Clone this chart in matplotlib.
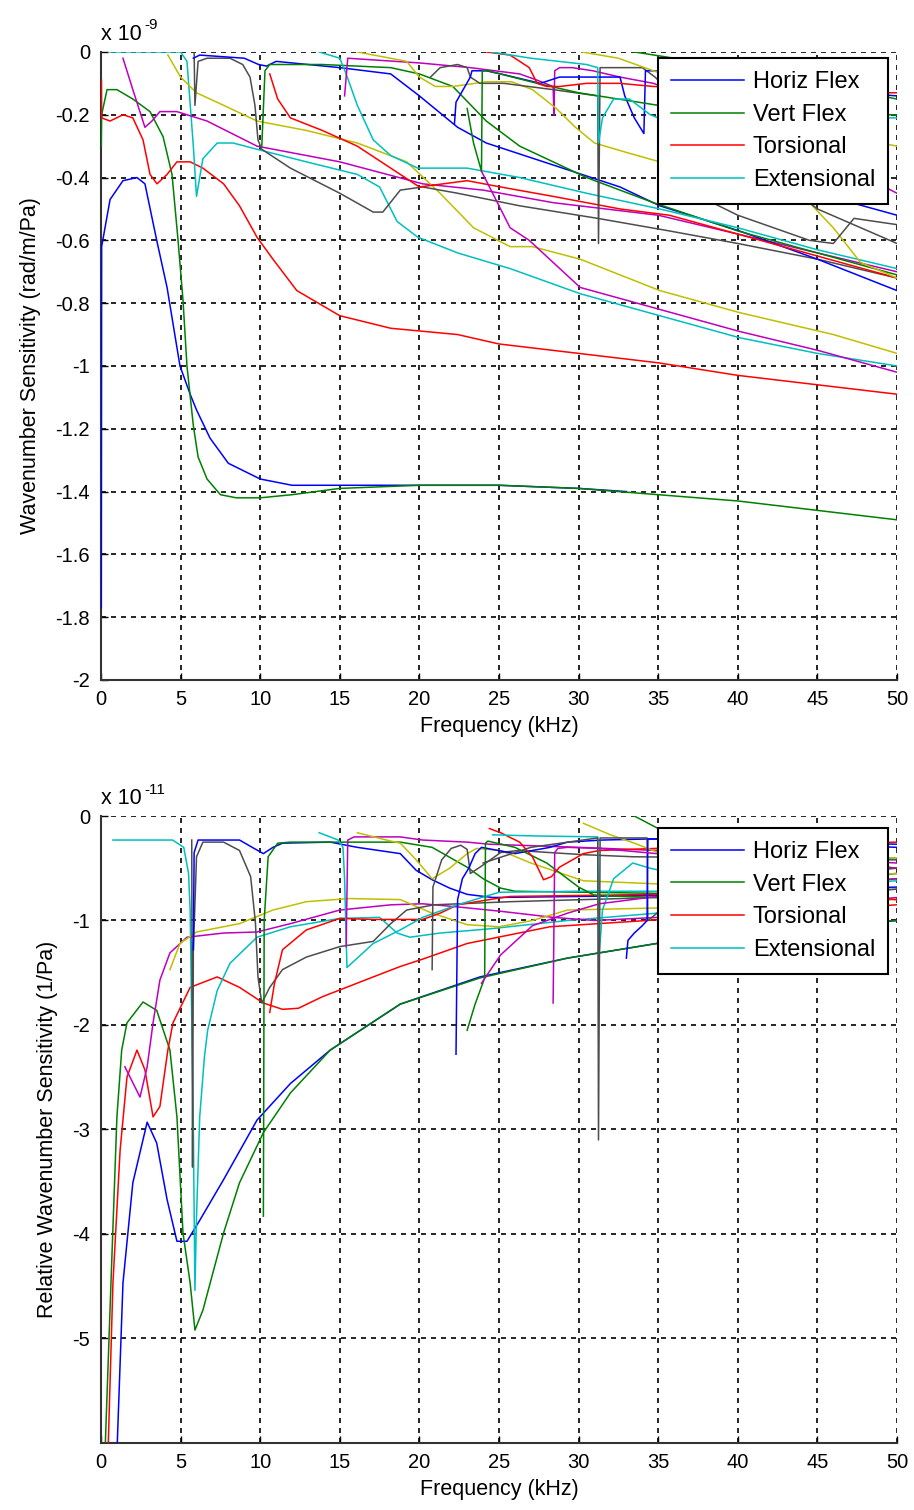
import matplotlib
matplotlib.use('Agg')
import matplotlib.pyplot as plt

plt.rcParams['font.family'] = ['Liberation Sans', 'DejaVu Sans']
plt.rcParams['axes.unicode_minus'] = False

# old matlab colour order
BLUE = (0, 0, 1)
GREEN = (0, 0.5, 0)
RED = (1, 0, 0)
CYAN = (0, 0.75, 0.75)
MAGENTA = (0.75, 0, 0.75)
YELLOW = (0.75, 0.75, 0)
GRAY = (0.3, 0.3, 0.3)

legend_labels = ['Horiz Flex', 'Vert Flex', 'Torsional', 'Extensional']
freq_ticks = [0, 5, 10, 15, 20, 25, 30, 35, 40, 45, 50]

# ---------------- top panel (x 1e-9 rad/m/Pa) ----------------
top_yticks = [0, -0.2, -0.4, -0.6, -0.8, -1, -1.2, -1.4, -1.6, -1.8, -2]

top_blue1_f = [0.02, 0.04, 0.57, 1.38, 2.26, 2.76, 3.5, 4.15, 4.96, 5.6, 6.0, 6.85, 8.0, 10.0, 12.0, 15.0, 20.0, 25.0, 30.0, 33.0]
top_blue1_s = [-1.77, -0.62, -0.47, -0.41, -0.40, -0.42, -0.60, -0.75, -1.0, -1.09, -1.14, -1.23, -1.31, -1.36, -1.38, -1.38, -1.38, -1.38, -1.39, -1.40]

top_green1_f = [0.02, 0.04, 0.38, 1.0, 2.0, 3.08, 3.9, 4.46, 4.84, 5.15, 5.4, 5.8, 6.1, 6.66, 7.5, 8.5, 10, 12, 15, 20, 25, 30, 35, 40, 45, 50]
top_green1_s = [-0.30, -0.20, -0.12, -0.12, -0.15, -0.19, -0.27, -0.39, -0.60, -0.79, -1.0, -1.19, -1.29, -1.36, -1.41, -1.42, -1.42, -1.41, -1.39, -1.38, -1.38, -1.39, -1.41, -1.43, -1.46, -1.49]

top_red1_f = [0.03, 0.04, 0.57, 1.38, 2.0, 2.64, 3.08, 3.52, 4.15, 4.77, 5.6, 6.4, 7.7, 8.7, 9.8, 10.8, 12.3, 15.0, 18.2, 22.4, 25, 30, 35, 40, 45, 50]
top_red1_s = [-0.09, -0.21, -0.22, -0.20, -0.21, -0.28, -0.39, -0.42, -0.39, -0.35, -0.35, -0.37, -0.42, -0.49, -0.59, -0.66, -0.76, -0.84, -0.88, -0.90, -0.93, -0.96, -0.99, -1.03, -1.06, -1.09]

top_cyan1_f = [0.5, 5.0, 5.4, 5.8, 6.0, 6.4, 7.3, 8.3, 9.8, 12.9, 16.1, 17.5, 18.6, 19.9, 22.4, 25.7, 30.1, 35.1, 40.1, 45, 50]
top_cyan1_s = [0.0, 0.0, -0.03, -0.30, -0.46, -0.34, -0.29, -0.29, -0.31, -0.35, -0.39, -0.43, -0.54, -0.59, -0.64, -0.69, -0.77, -0.84, -0.91, -0.96, -1.00]

top_mag1_f = [1.38, 2.0, 2.76, 3.2, 3.7, 4.77, 6.66, 9.8, 15.0, 20.2, 24.0, 28.4, 35.0, 40, 45, 50]
top_mag1_s = [-0.02, -0.12, -0.24, -0.22, -0.19, -0.19, -0.22, -0.30, -0.35, -0.42, -0.44, -0.48, -0.52, -0.58, -0.64, -0.70]

top_yel1_f = [4.2, 5.0, 6.0, 7.7, 9.8, 12.9, 16.1, 19.2, 21.3, 23.4, 25.7, 27.1, 30.1, 35.1, 40.1, 46.0, 50]
top_yel1_s = [-0.01, -0.08, -0.13, -0.17, -0.22, -0.25, -0.29, -0.35, -0.45, -0.56, -0.62, -0.62, -0.66, -0.76, -0.83, -0.90, -0.96]

top_gray1_f = [5.85, 5.9, 6.1, 6.66, 8.1, 8.9, 9.36, 9.67, 9.86, 10.1, 11.9, 15.0, 17.1, 17.7, 18.8, 20.2, 22.4, 26.3, 31.2, 35.7, 40, 45, 50]
top_gray1_s = [0.0, -0.17, -0.03, -0.02, -0.02, -0.04, -0.08, -0.17, -0.28, -0.31, -0.37, -0.45, -0.51, -0.51, -0.44, -0.43, -0.45, -0.49, -0.53, -0.57, -0.61, -0.66, -0.72]

top_green2_f = [10.1, 10.3, 10.6, 13.9, 18.2, 20.0, 22.1, 24.2, 26.3, 30.5, 34.7, 40, 45, 50]
top_green2_s = [-0.30, -0.06, -0.04, -0.04, -0.05, -0.07, -0.11, -0.22, -0.30, -0.40, -0.48, -0.57, -0.64, -0.71]

top_blue2_f = [5.8, 6.2, 9.0, 9.9, 10.4, 11.0, 15.0, 18.2, 20.0, 22.4, 24.2, 28.4, 32.6, 35.1, 40.1, 45, 50]
top_blue2_s = [-0.02, -0.01, -0.02, -0.04, -0.045, -0.03, -0.05, -0.07, -0.14, -0.24, -0.29, -0.36, -0.43, -0.49, -0.57, -0.66, -0.76]

top_red2_f = [10.6, 11.1, 11.9, 13.9, 16.1, 18.2, 20.0, 23.0, 25.1, 28.4, 32.6, 35.7, 40, 45, 50]
top_red2_s = [-0.07, -0.15, -0.21, -0.25, -0.30, -0.37, -0.43, -0.41, -0.43, -0.46, -0.50, -0.52, -0.58, -0.65, -0.72]

top_cyan2_f = [13.7, 15.0, 15.4, 16.1, 17.1, 18.2, 19.9, 23.0, 26.3, 30.5, 35.1, 40, 45, 50]
top_cyan2_s = [0.0, -0.02, -0.07, -0.17, -0.28, -0.33, -0.37, -0.37, -0.40, -0.45, -0.50, -0.56, -0.63, -0.69]

top_mag2_f = [15.3, 15.5, 20.0, 23.2, 26.3, 27.4, 28.4, 28.45, 28.5, 28.8, 29.6, 30.9, 32.6, 34.7, 40, 45, 50]
top_mag2_s = [-0.14, -0.02, -0.035, -0.05, -0.07, -0.09, -0.11, -0.20, -0.06, -0.05, -0.05, -0.06, -0.08, -0.10, -0.20, -0.32, -0.45]

top_mag3_f = [23.9, 24.5, 25.7, 26.9, 30.1, 35.1, 40.1, 45, 50]
top_mag3_s = [-0.38, -0.44, -0.56, -0.60, -0.75, -0.82, -0.89, -0.95, -1.02]

top_yel2_f = [16.1, 19.2, 20.0, 21.0, 22.1, 24.2, 25.8, 27.1, 28.6, 29.8, 31.0, 33.0, 35.1, 40, 44.5, 46, 47.7, 50]
top_yel2_s = [0.0, -0.03, -0.08, -0.11, -0.11, -0.095, -0.095, -0.12, -0.18, -0.24, -0.29, -0.32, -0.35, -0.41, -0.48, -0.56, -0.67, -0.72]

top_yel3_f = [30.2, 32.5, 34.7, 40, 45, 50]
top_yel3_s = [0.0, -0.02, -0.06, -0.15, -0.25, -0.30]

top_gray2_f = [20.7, 21.3, 22.4, 23.0, 23.2, 23.8, 25.3, 28.4, 31.2, 31.25, 31.35, 34.0, 34.8, 38, 42, 45, 50]
top_gray2_s = [-0.08, -0.05, -0.04, -0.05, -0.08, -0.10, -0.10, -0.12, -0.14, -0.61, -0.05, -0.05, -0.08, -0.24, -0.38, -0.50, -0.61]

top_gray3_f = [36, 40, 44.5, 46.0, 47.3, 50]
top_gray3_s = [-0.42, -0.52, -0.60, -0.61, -0.53, -0.55]

top_blue3_f = [22.2, 22.3, 23.2, 23.3, 24.2, 25.1, 27.6, 28.8, 32.6, 32.9, 33.5, 34.1, 34.2, 34.7, 40, 45, 50]
top_blue3_s = [-0.23, -0.16, -0.08, -0.06, -0.06, -0.07, -0.10, -0.08, -0.08, -0.14, -0.21, -0.26, -0.06, -0.06, -0.09, -0.12, -0.14]

top_blue4_f = [38, 45, 50]
top_blue4_s = [-0.38, -0.45, -0.52]

top_green3_f = [23.0, 23.4, 23.9, 23.95, 24.3, 27.4, 30, 35, 40, 45, 50]
top_green3_s = [-0.18, -0.29, -0.38, -0.06, -0.06, -0.10, -0.13, -0.17, -0.19, -0.20, -0.20]

top_green4_f = [33.5, 36, 40, 45, 50]
top_green4_s = [0.0, -0.02, -0.05, -0.10, -0.15]

top_red3_f = [24.2, 25.7, 26.9, 27.4, 28.0, 28.8, 30.5, 32.6, 34.7, 40, 45, 50]
top_red3_s = [0.0, -0.01, -0.05, -0.10, -0.11, -0.11, -0.10, -0.10, -0.11, -0.12, -0.13, -0.13]

top_cyan3_f = [24.5, 27, 30.5, 31.2, 31.25, 31.5, 32.2, 33.2, 34.5, 35.5, 40, 45, 50]
top_cyan3_s = [0.0, -0.02, -0.04, -0.05, -0.29, -0.21, -0.15, -0.15, -0.20, -0.22, -0.22, -0.21, -0.21]

# ---------------- bottom panel (x 1e-11 1/Pa) ----------------
bot_yticks = [0, -1, -2, -3, -4, -5]

bot_blue1_f = [1.0, 1.38, 2.0, 2.9, 3.5, 4.15, 4.77, 5.4, 6.2, 7.7, 9.8, 11.9, 14.4, 18.8, 23.8, 29.3, 34.9, 42, 50]
bot_blue1_s = [-6.1, -4.47, -3.51, -2.93, -3.13, -3.67, -4.07, -4.07, -3.87, -3.48, -2.91, -2.56, -2.24, -1.80, -1.54, -1.36, -1.22, -1.1, -1.0]

bot_green1_f = [0.25, 0.7, 1.0, 1.3, 1.63, 2.64, 3.5, 4.33, 4.77, 5.15, 5.6, 5.9, 6.4, 7.7, 8.7, 10.2, 11.9, 14.4, 18.8, 23.8, 29.3, 34.9, 42, 50]
bot_green1_s = [-6.1, -4.15, -2.88, -2.24, -1.98, -1.78, -1.86, -2.24, -2.88, -3.99, -4.47, -4.92, -4.73, -3.99, -3.51, -3.03, -2.65, -2.24, -1.80, -1.55, -1.36, -1.22, -1.1, -1.0]

bot_red1_f = [0.44, 0.75, 1.2, 1.63, 2.26, 2.76, 3.27, 3.7, 4.2, 4.52, 5.6, 7.3, 8.7, 10.2, 11.4, 12.4, 13.9, 17.1, 18.8, 20.2, 23.0, 28.2, 34.3, 42, 50]
bot_red1_s = [-6.1, -4.47, -3.2, -2.5, -2.24, -2.43, -2.88, -2.78, -2.24, -1.98, -1.64, -1.54, -1.64, -1.79, -1.85, -1.84, -1.73, -1.54, -1.44, -1.37, -1.22, -1.06, -1.0, -0.92, -0.85]

bot_cyan1_f = [0.75, 4.5, 5.2, 5.5, 5.6, 5.8, 5.9, 6.0, 6.2, 6.5, 6.7, 7.3, 8.1, 9.8, 11.9, 15.0, 17.5, 18.6, 19.4, 21.3, 24.4, 29.3, 34.9, 42, 50]
bot_cyan1_s = [-0.23, -0.23, -0.30, -0.55, -0.90, -3.0, -4.54, -3.83, -2.88, -2.30, -2.05, -1.67, -1.41, -1.16, -1.06, -0.98, -0.97, -1.12, -1.16, -1.12, -1.08, -1.0, -0.93, -0.82, -0.70]

bot_cyan2_f = [13.7, 14.9, 15.2, 15.3, 15.45, 17.1, 18.8, 20.2, 22.4, 25.0, 30, 35, 42, 50]
bot_cyan2_s = [-0.16, -0.23, -0.30, -0.60, -1.45, -1.22, -1.09, -0.97, -0.85, -0.73, -0.72, -0.72, -0.68, -0.62]

bot_cyan3_f = [24.6, 27.0, 31.2, 31.3, 31.5, 32.2, 33.4, 34.5, 36, 42, 50]
bot_cyan3_s = [-0.18, -0.19, -0.20, -1.31, -0.90, -0.60, -0.45, -0.50, -0.55, -0.50, -0.40]

bot_mag1_f = [1.5, 2.45, 2.9, 3.27, 3.7, 4.33, 5.4, 7.7, 9.8, 11.9, 15.0, 18.2, 20.2, 22.4, 25.0, 28.4, 31.0, 35.0, 42, 50]
bot_mag1_s = [-2.40, -2.69, -2.40, -1.98, -1.57, -1.31, -1.16, -1.12, -1.11, -1.03, -0.90, -0.85, -0.84, -0.87, -0.91, -0.97, -1.0, -0.97, -0.88, -0.78]

bot_mag2_f = [23.9, 25.1, 27.1, 29.3, 31.3, 34.9, 42, 50]
bot_mag2_s = [-1.60, -1.33, -1.05, -0.93, -0.84, -0.77, -0.70, -0.60]

bot_mag3_f = [15.4, 15.5, 15.9, 18.8, 20.2, 23.0, 24.4, 30, 35, 50]
bot_mag3_s = [-1.25, -0.23, -0.20, -0.20, -0.23, -0.25, -0.27, -0.30, -0.33, -0.45]

bot_mag4_f = [28.4, 28.5, 28.7, 29.3, 31.3, 34.9, 42, 50]
bot_mag4_s = [-1.79, -0.35, -0.31, -0.30, -0.31, -0.36, -0.45, -0.50]

bot_gray1_f = [5.7, 5.75, 5.8, 6.0, 6.4, 7.7, 8.7, 9.4, 9.7, 9.86, 10.1, 10.6, 11.4, 12.9, 15.0, 17.1, 18.2, 19.2, 20.9, 25.7, 35, 50]
bot_gray1_s = [-0.23, -3.36, -1.3, -0.39, -0.25, -0.25, -0.33, -0.58, -1.02, -1.54, -1.79, -1.64, -1.47, -1.35, -1.25, -1.2, -1.03, -0.9, -0.85, -0.82, -0.78, -0.70]

bot_gray2_f = [20.8, 20.85, 21.4, 22.0, 22.6, 23.0, 23.2, 23.8, 25.1, 26.2, 28.2, 30.3, 33.4, 40, 50]
bot_gray2_s = [-1.47, -0.68, -0.42, -0.31, -0.28, -0.32, -0.55, -0.49, -0.35, -0.33, -0.35, -0.37, -0.39, -0.40, -0.42]

bot_gray3_f = [24.0, 27.0, 31.2, 31.25, 31.35, 34.3, 34.35, 36, 42, 50]
bot_gray3_s = [-0.45, -0.30, -0.21, -3.10, -0.21, -0.21, -1.00, -0.80, -0.60, -0.50]

bot_blue2_f = [5.8, 5.85, 6.1, 6.2, 8.7, 9.5, 10.2, 10.8, 11.4, 14.4, 16.1, 18.8, 19.8, 20.8, 21.9, 23.0, 24.6, 30, 35, 42, 50]
bot_blue2_s = [-1.28, -0.35, -0.23, -0.23, -0.23, -0.30, -0.36, -0.30, -0.26, -0.25, -0.30, -0.36, -0.52, -0.61, -0.69, -0.75, -0.78, -0.77, -0.76, -0.72, -0.68]

bot_blue3_f = [22.3, 22.4, 22.7, 23.1, 23.5, 23.9, 26.0, 28.2, 29.3, 31.5, 34.3, 36, 42, 50]
bot_blue3_s = [-2.28, -0.80, -0.60, -0.50, -0.36, -0.30, -0.36, -0.30, -0.25, -0.23, -0.22, -0.22, -0.24, -0.27]

bot_blue4_f = [33.0, 33.1, 33.5, 34.0, 34.3, 34.35, 36, 42, 50]
bot_blue4_s = [-1.36, -1.19, -1.12, -1.05, -1.00, -0.22, -0.22, -0.25, -0.30]

bot_green2_f = [10.2, 10.25, 10.5, 11.1, 11.9, 15.0, 18.8, 20.8, 23.0, 24.0, 25.1, 26.0, 35, 42, 50]
bot_green2_s = [-3.83, -1.0, -0.39, -0.26, -0.25, -0.25, -0.25, -0.30, -0.49, -0.60, -0.69, -0.72, -0.74, -0.65, -0.55]

bot_green3_f = [23.0, 23.5, 24.1, 24.15, 24.3, 26.0, 28.0, 30.0, 31.0, 35, 42, 50]
bot_green3_s = [-2.05, -1.80, -1.55, -0.26, -0.24, -0.30, -0.45, -0.68, -0.76, -0.78, -0.70, -0.60]

bot_green4_f = [33.5, 35, 40, 50]
bot_green4_s = [0.0, -0.12, -0.30, -0.50]

bot_yel1_f = [4.33, 4.96, 6.0, 8.7, 10.8, 12.9, 15.6, 18.8, 20.8, 23.0, 25.0, 27.1, 29.3, 35, 42, 50]
bot_yel1_s = [-1.47, -1.22, -1.11, -1.03, -0.90, -0.82, -0.79, -0.80, -0.93, -1.04, -1.06, -1.00, -0.90, -0.88, -0.84, -0.80]

bot_yel2_f = [16.1, 18.2, 18.8, 19.8, 20.8, 21.9, 23.0, 23.6, 25.1, 27.0, 30.3, 35, 42, 50]
bot_yel2_s = [-0.16, -0.24, -0.26, -0.42, -0.60, -0.50, -0.36, -0.31, -0.33, -0.45, -0.62, -0.65, -0.60, -0.55]

bot_yel3_f = [30.3, 32.0, 33.5, 35, 42, 50]
bot_yel3_s = [-0.07, -0.18, -0.26, -0.35, -0.40, -0.40]

bot_red2_f = [24.4, 25.1, 26.3, 27.1, 27.8, 28.3, 28.8, 30.3, 31.3, 34.9, 42, 50]
bot_red2_s = [-0.12, -0.16, -0.25, -0.39, -0.61, -0.58, -0.49, -0.36, -0.33, -0.31, -0.28, -0.25]

bot_red3_f = [10.6, 10.9, 11.4, 12.9, 15.0, 17.1, 20.2, 21.3, 22.4, 24.4, 25.7, 35, 42, 50]
bot_red3_s = [-1.88, -1.60, -1.28, -1.09, -0.98, -0.99, -0.99, -0.93, -0.85, -0.80, -0.77, -0.75, -0.72, -0.80]

top_curves = [
    (top_blue1_f, top_blue1_s, BLUE), (top_green1_f, top_green1_s, GREEN),
    (top_red1_f, top_red1_s, RED), (top_cyan1_f, top_cyan1_s, CYAN),
    (top_mag1_f, top_mag1_s, MAGENTA), (top_yel1_f, top_yel1_s, YELLOW),
    (top_gray1_f, top_gray1_s, GRAY), (top_blue2_f, top_blue2_s, BLUE),
    (top_green2_f, top_green2_s, GREEN), (top_red2_f, top_red2_s, RED),
    (top_cyan2_f, top_cyan2_s, CYAN), (top_mag2_f, top_mag2_s, MAGENTA),
    (top_yel2_f, top_yel2_s, YELLOW), (top_gray2_f, top_gray2_s, GRAY),
    (top_blue3_f, top_blue3_s, BLUE), (top_green3_f, top_green3_s, GREEN),
    (top_red3_f, top_red3_s, RED), (top_cyan3_f, top_cyan3_s, CYAN),
    (top_mag3_f, top_mag3_s, MAGENTA), (top_yel3_f, top_yel3_s, YELLOW),
    (top_gray3_f, top_gray3_s, GRAY), (top_blue4_f, top_blue4_s, BLUE),
    (top_green4_f, top_green4_s, GREEN),
]

bot_curves = [
    (bot_blue1_f, bot_blue1_s, BLUE), (bot_green1_f, bot_green1_s, GREEN),
    (bot_red1_f, bot_red1_s, RED), (bot_cyan1_f, bot_cyan1_s, CYAN),
    (bot_mag1_f, bot_mag1_s, MAGENTA), (bot_yel1_f, bot_yel1_s, YELLOW),
    (bot_gray1_f, bot_gray1_s, GRAY), (bot_blue2_f, bot_blue2_s, BLUE),
    (bot_green2_f, bot_green2_s, GREEN), (bot_red3_f, bot_red3_s, RED),
    (bot_cyan2_f, bot_cyan2_s, CYAN), (bot_mag3_f, bot_mag3_s, MAGENTA),
    (bot_yel2_f, bot_yel2_s, YELLOW), (bot_gray2_f, bot_gray2_s, GRAY),
    (bot_blue3_f, bot_blue3_s, BLUE), (bot_green3_f, bot_green3_s, GREEN),
    (bot_red2_f, bot_red2_s, RED), (bot_cyan3_f, bot_cyan3_s, CYAN),
    (bot_mag2_f, bot_mag2_s, MAGENTA), (bot_yel3_f, bot_yel3_s, YELLOW),
    (bot_gray3_f, bot_gray3_s, GRAY), (bot_blue4_f, bot_blue4_s, BLUE),
    (bot_green4_f, bot_green4_s, GREEN), (bot_mag4_f, bot_mag4_s, MAGENTA),
]


def draw_panel(ax, curves, ylim, yticks, ylabel, exponent, legend_y):
    lines = []
    for f, s, c in curves:
        ln, = ax.plot(f, s, color=c, linewidth=1.1, zorder=3)
        lines.append(ln)

    ax.set_xlim(0, 50)
    ax.set_ylim(*ylim)
    ax.set_xticks(freq_ticks)
    ax.set_yticks(yticks)
    ax.set_yticklabels(['%g' % t for t in yticks])
    ax.tick_params(direction='in', length=5, width=1, labelsize=14.5)
    ax.tick_params(axis='y', pad=8)
    ax.tick_params(axis='x', pad=7)
    ax.grid(True, color='k', linestyle=(0, (3, 3)), linewidth=1.2)
    for side in ['top', 'right']:
        ax.spines[side].set_visible(False)
    for side in ['left', 'bottom']:
        ax.spines[side].set_linewidth(1.5)
        ax.spines[side].set_color('#333333')

    ax.set_xlabel('Frequency (kHz)', fontsize=15.5, labelpad=5)
    ax.set_ylabel(ylabel, fontsize=15.5, labelpad=10)
    # matlab style exponent label "x 10^-n"
    ax.annotate('x 10', xy=(0, 1), xycoords='axes fraction',
                xytext=(0, 5), textcoords='offset points', fontsize=15.5,
                ha='left', va='bottom')
    ax.annotate('%d' % exponent, xy=(0, 1), xycoords='axes fraction',
                xytext=(31, 14), textcoords='offset points', fontsize=11,
                ha='left', va='bottom')

    leg = ax.legend(lines[:4], legend_labels, loc='upper left',
                    bbox_to_anchor=(0.700, legend_y), borderaxespad=0,
                    fontsize=17, frameon=True, fancybox=False, framealpha=1,
                    edgecolor='k', handlelength=3.1, handletextpad=0.35,
                    labelspacing=0.45, borderpad=0.55)
    leg.get_frame().set_linewidth(1.5)
    leg.set_zorder(10)


fig = plt.figure(figsize=(9.14, 15.10), dpi=100)
ax_top = fig.add_axes([0.1105, 0.5497, 0.8709, 0.4159])
ax_bot = fig.add_axes([0.1105, 0.0444, 0.8709, 0.4152])

draw_panel(ax_top, top_curves, (-2, 0), top_yticks,
           'Wavenumber Sensitivity (rad/m/Pa)', -9, 0.990)
draw_panel(ax_bot, bot_curves, (-6, 0), bot_yticks,
           'Relative Wavenumber Sensitivity (1/Pa)', -11, 0.981)

fig.savefig('out.png', dpi=100)
